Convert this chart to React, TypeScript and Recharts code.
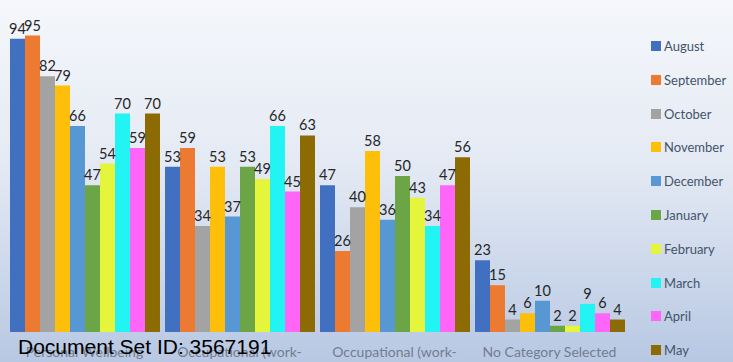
import { Bar, BarChart, LabelList, XAxis, YAxis } from "recharts";

const categories = [
  "Personal Wellbeing",
  "Occupational (work-",
  "Occupational (work-",
  "No Category Selected",
];

const months = [
  "August",
  "September",
  "October",
  "November",
  "December",
  "January",
  "February",
  "March",
  "April",
  "May",
];

const august = [94, 53, 47, 23];
const september = [95, 59, 26, 15];
const october = [82, 34, 40, 4];
const november = [79, 53, 58, 6];
const december = [66, 37, 36, 10];
const january = [47, 53, 50, 2];
const february = [54, 49, 43, 2];
const march = [70, 66, 34, 9];
const april = [59, 45, 47, 6];
const may = [70, 63, 56, 4];

const seriesValues = [august, september, october, november, december, january, february, march, april, may];

const COLORS: Record<string, string> = {
  August: "#4170c0",
  September: "#ec7a30",
  October: "#a3a3a3",
  November: "#fdbf0a",
  December: "#5797d4",
  January: "#6ca545",
  February: "#e4f53c",
  March: "#22f4f4",
  April: "#ff66f8",
  May: "#8c6b04",
};

const data = categories.map((name, i) => {
  const row: Record<string, string | number> = { name };
  months.forEach((m, j) => {
    row[m] = seriesValues[j][i];
  });
  return row;
});

const font = "Lato, 'Open Sans', sans-serif";

export default function App() {
  return (
    <div
      style={{
        position: "absolute",
        left: 0,
        top: 0,
        width: 733,
        height: 362,
        overflow: "hidden",
        background: "linear-gradient(to bottom, #f5f7fb 0%, #e4eaf4 45%, #b8c8e3 100%)",
      }}
    >
      <BarChart
        width={733}
        height={362}
        data={data}
        margin={{ top: 20, right: 106, bottom: 0, left: 7 }}
        barCategoryGap={3}
        barGap={0}
      >
        <XAxis
          dataKey="name"
          axisLine={false}
          tickLine={false}
          interval={0}
          height={30}
          tick={{ fill: "#737d8c", fontSize: 14, fontFamily: font }}
          dy={7}
        />
        <YAxis hide domain={[0, 100]} />
        {months.map((m) => (
          <Bar key={m} dataKey={m} fill={COLORS[m]} isAnimationActive={false}>
            <LabelList
              dataKey={m}
              position="top"
              offset={5}
              style={{ fill: "#262626", fontSize: 14.5, fontFamily: font }}
            />
          </Bar>
        ))}
      </BarChart>

      {/* legend, in series order */}
      <div style={{ position: "absolute", left: 651, top: 38 }}>
        {months.map((m) => (
          <div
            key={m}
            style={{
              height: 33.8,
              display: "flex",
              alignItems: "flex-start",
              fontFamily: font,
              fontSize: 13,
              color: "#44546a",
              lineHeight: "16px",
            }}
          >
            <span
              style={{
                width: 10,
                height: 10,
                background: COLORS[m],
                marginTop: 3,
                marginRight: 3,
                display: "inline-block",
              }}
            />
            {m}
          </div>
        ))}
      </div>

      <div
        style={{
          position: "absolute",
          left: 18,
          top: 335,
          fontFamily: "Arial, 'Liberation Sans', sans-serif",
          fontSize: 21,
          lineHeight: "24px",
          color: "#000",
          whiteSpace: "nowrap",
        }}
      >
        Document Set ID: 3567191
      </div>
    </div>
  );
}
